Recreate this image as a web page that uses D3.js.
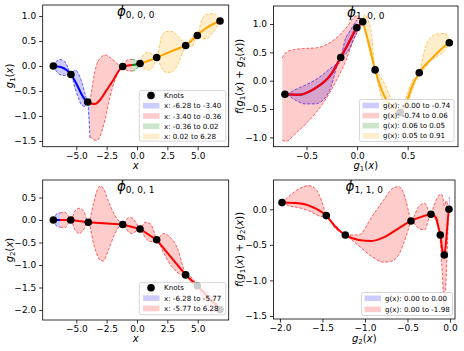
<!DOCTYPE html>
<html><head><meta charset="utf-8">
<script src="https://cdn.jsdelivr.net/npm/d3@7"></script>
<style>body{margin:0;background:#fff;} svg{display:block;} text{font-family:"DejaVu Sans",sans-serif;fill:#000;}</style>
</head><body><svg id="c" width="464" height="351"></svg>
<script>
// ---------- Panel φ0,0,0 ----------
const p1Labels = ["x: -6.28 to -3.40", "x: -3.40 to -0.36", "x: -0.36 to 0.02", "x: 0.02 to 6.28"];
const p1Knots = [[-6.89,0],[-5.44,-0.17],[-4.06,-0.72],[-1.18,-0.01],[0.25,0.05],[1.62,0.17],[4.01,0.41],[4.97,0.61],[6.84,0.90]];
const p1LineBlue = [[-6.89,0],[-6.3,-0.02],[-5.8,-0.08],[-5.44,-0.17],[-5.0,-0.35],[-4.6,-0.55],[-4.3,-0.67],[-4.06,-0.72],[-3.87,-0.75]];
const p1LineRed = [[-3.87,-0.75],[-3.46,-0.76],[-3.05,-0.68],[-2.5,-0.48],[-1.95,-0.28],[-1.54,-0.11],[-1.18,-0.01],[-0.71,0.01],[-0.4,0.02]];
const p1LineGreen = [[-0.4,0.02],[-0.1,0.03],[0.1,0.04]];
const p1LineOrange = [[0.1,0.04],[0.25,0.05],[1.0,0.11],[1.62,0.17],[2.5,0.26],[3.3,0.34],[4.01,0.41],[4.5,0.51],[4.97,0.61],[5.6,0.74],[6.2,0.83],[6.84,0.90]];
const p1BandBlue = [[-6.89,0,0],[-6.65,-0.10,0.09],[-6.35,-0.17,0.13],[-6.0,-0.19,0.10],[-5.7,-0.18,-0.02],[-5.44,-0.17,-0.17],[-5.1,-0.45,-0.08],[-4.83,-0.63,-0.15],[-4.56,-0.78,-0.31],[-4.28,-0.81,-0.55],[-4.06,-0.72,-0.72],[-3.97,-1.0,-0.73],[-3.87,-1.45,-0.74]];
const p1BandRed = [[-3.87,-1.41,-0.71],[-3.6,-1.47,-0.28],[-3.32,-1.49,0.03],[-3.05,-1.41,0.15],[-2.64,-1.08,0.22],[-2.22,-0.61,0.17],[-1.81,-0.28,0.09],[-1.46,-0.09,0.01],[-1.18,-0.01,-0.01],[-0.9,-0.08,0.10],[-0.6,-0.10,0.13],[-0.4,-0.10,0.13]];
const p1BandGreen = [[-0.4,-0.10,0.13],[-0.15,-0.08,0.12],[0.1,-0.02,0.08]];
const p1BandOrange = [[0.1,-0.02,0.08],[0.25,0.05,0.05],[0.52,-0.03,0.22],[0.93,-0.08,0.27],[1.35,0.0,0.22],[1.62,0.17,0.17],[2.03,-0.05,0.59],[2.44,-0.13,0.69],[2.86,-0.12,0.69],[3.40,0.05,0.59],[3.82,0.30,0.47],[4.01,0.41,0.41],[4.5,0.39,0.57],[4.97,0.61,0.61],[5.33,0.55,0.92],[5.74,0.55,1.03],[6.29,0.69,1.05],[6.6,0.80,0.99],[6.84,0.90,0.90]];

// ---------- Panel φ1,0,0 ----------
const p2Labels = ["g(x): -0.00 to -0.74", "g(x): -0.74 to 0.06", "g(x): 0.06 to 0.05", "g(x): 0.05 to 0.91"];
const p2Knots = [[-0.713,-0.24],[-0.162,0.41],[-0.003,0.935],[0.056,1.04],[0.178,0.19],[0.426,-0.56],[0.614,0.14],[0.911,0.67]];
const p2LineBlue = [[-0.74,-0.24],[-0.713,-0.24],[-0.58,-0.25],[-0.42,-0.14],[-0.25,0.13],[-0.162,0.41],[-0.086,0.66],[-0.003,0.935]];
const p2LineRed = [[-0.74,-0.24],[-0.713,-0.24],[-0.58,-0.25],[-0.42,-0.14],[-0.25,0.13],[-0.162,0.41],[-0.086,0.66],[-0.003,0.935],[0.056,1.04]];
const p2LineGreen = [[0.05,1.04],[0.06,1.04]];
const p2LineOrange = [[0.056,1.04],[0.112,0.68],[0.178,0.19],[0.244,-0.17],[0.31,-0.40],[0.37,-0.53],[0.426,-0.56],[0.48,-0.42],[0.541,-0.11],[0.614,0.14],[0.739,0.394],[0.838,0.57],[0.911,0.67]];
const p2BandBlue = [[-0.74,-0.26,-0.22],[-0.713,-0.24,-0.24],[-0.614,-0.34,-0.16],[-0.515,-0.41,-0.08],[-0.416,-0.41,0.01],[-0.284,-0.22,0.19],[-0.162,0.41,0.41],[-0.119,0.46,0.72],[-0.069,0.58,0.88],[-0.036,0.72,0.98],[0.0,0.84,1.07]];
const p2BandRed = [[-0.74,-1.05,0.40],[-0.70,-1.07,0.50],[-0.62,-0.95,0.55],[-0.5,-0.75,0.57],[-0.4,-0.55,0.58],[-0.3,-0.30,0.64],[-0.2,0.02,0.76],[-0.1,0.40,0.95],[-0.03,0.75,1.12],[0.0,0.85,1.15],[0.056,1.04,1.04]];
const p2BandGreen = [[0.05,1.03,1.05],[0.06,1.03,1.05]];
const p2BandOrange = [[0.056,1.04,1.04],[0.076,0.92,1.16],[0.109,0.62,1.07],[0.142,0.40,0.83],[0.178,0.19,0.19],[0.22,-0.15,0.10],[0.27,-0.45,-0.05],[0.32,-0.62,-0.25],[0.37,-0.65,-0.42],[0.426,-0.56,-0.56],[0.48,-0.48,-0.32],[0.54,-0.20,-0.02],[0.614,0.14,0.14],[0.67,0.22,0.57],[0.72,0.335,0.75],[0.785,0.42,0.82],[0.868,0.54,0.835],[0.911,0.67,0.72]];

// ---------- Panel φ0,0,1 ----------
const p3Labels = ["x: -6.28 to -5.77", "x: -5.77 to 6.28"];
const p3Knots = [[-6.89,0],[-5.46,0],[-4.01,-0.05],[-1.18,-0.10],[0.25,-0.20],[1.62,-0.44],[4.01,-1.22],[4.97,-1.46],[6.84,-1.99]];
const p3LineBlue = [[-6.89,0],[-6.34,0]];
const p3LineRed = [[-6.34,0],[-5.46,0],[-4.01,-0.05],[-1.18,-0.10],[0.25,-0.20],[1.62,-0.44],[4.01,-1.22],[4.97,-1.46],[6.84,-1.99]];
const p3BandBlue = [[-6.89,0,0],[-6.6,-0.14,0.14],[-6.34,-0.16,0.16]];
const p3BandRed = [[-6.34,-0.16,0.16],[-5.93,-0.17,0.17],[-5.6,-0.05,0.06],[-5.46,0,0],[-5.11,-0.22,0.20],[-4.75,-0.30,0.26],[-4.37,-0.20,0.185],[-4.01,-0.05,-0.05],[-3.6,-0.50,0.35],[-3.32,-0.75,0.63],[-3.05,-0.89,0.755],[-2.77,-0.91,0.70],[-2.36,-0.67,0.42],[-1.81,-0.30,0.10],[-1.4,-0.13,-0.05],[-1.18,-0.10,-0.10],[-0.71,-0.26,0.05],[-0.44,-0.30,0.05],[-0.03,-0.24,-0.08],[0.25,-0.20,-0.20],[0.66,-0.38,-0.05],[1.07,-0.48,-0.08],[1.40,-0.47,-0.25],[1.62,-0.44,-0.44],[2.17,-0.72,-0.30],[2.72,-0.98,-0.38],[3.40,-1.18,-0.68],[3.8,-1.23,-1.05],[4.01,-1.22,-1.22],[4.5,-1.40,-1.28],[4.97,-1.46,-1.46],[5.5,-1.82,-1.55],[6.2,-2.05,-1.72],[6.84,-1.99,-1.99]];

// ---------- Panel φ1,1,0 ----------
const p4Labels = ["g(x): 0.00 to 0.00", "g(x): 0.00 to -1.98"];
const p4Knots = [[-1.976,0.094],[-1.455,-0.089],[-1.231,-0.361],[-0.459,-0.164],[-0.224,-0.070],[-0.114,-0.361],[-0.067,-0.642],[-0.012,0.0]];
const p4LineBlue = [[-0.012,0],[0.0,0.0]];
const p4LineRed = [[-1.976,0.094],[-1.78,0.084],[-1.584,0.014],[-1.455,-0.089],[-1.349,-0.244],[-1.231,-0.361],[-1.075,-0.431],[-0.918,-0.445],[-0.761,-0.384],[-0.604,-0.267],[-0.459,-0.164],[-0.329,-0.103],[-0.224,-0.070],[-0.165,-0.117],[-0.133,-0.267],[-0.114,-0.361],[-0.090,-0.572],[-0.067,-0.642],[-0.043,-0.408],[-0.024,-0.127],[-0.012,0]];
const p4BandBlue = [[-0.014,-0.04,0.16],[0.0,-0.04,0.16]];
const p4BandRed = [[-1.976,0.094,0.094],[-1.898,0.05,0.178],[-1.78,0.023,0.286],[-1.663,-0.02,0.333],[-1.584,-0.07,0.29],[-1.506,-0.103,0.108],[-1.455,-0.089,-0.089],[-1.349,-0.27,-0.22],[-1.231,-0.361,-0.361],[-1.075,-0.511,-0.361],[-0.918,-0.666,-0.103],[-0.78,-0.745,0.131],[-0.682,-0.727,0.286],[-0.604,-0.64,0.319],[-0.545,-0.48,0.225],[-0.486,-0.267,-0.033],[-0.459,-0.164,-0.164],[-0.369,-0.267,0.038],[-0.298,-0.29,0.084],[-0.224,-0.07,-0.07],[-0.192,-0.10,0.038],[-0.153,-0.2,0.155],[-0.114,-0.45,0.21],[-0.09,-0.9,0.20],[-0.067,-1.37,0.05],[-0.043,-0.9,0.12],[-0.024,-0.3,0.05],[-0.012,0,0]];

// ---------- drawing ----------
const COLORS = {blue:"#0000ff", red:"#ff0000", green:"#008000", orange:"#ffa500"};
const svg = d3.select("#c");

function mathText(sel, parts, size) {
  parts.forEach(p => {
    const t = sel.append("tspan").text(p[0]);
    if (p[1] === "i") t.attr("font-style", "italic");
    if (p[1] === "sub") t.attr("font-size", size * 0.7).attr("dy", size * 0.22);
    if (p[1] === "up") t.attr("dy", -size * 0.22);
  });
}
const G1 = [["g","i"],["1","sub"],["(","up"],["x","i"],[")",""]];
const G2 = [["g","i"],["2","sub"],["(","up"],["x","i"],[")",""]];
const FG = [["f","i"],["(",""],["g","i"],["1","sub"],["(","up"],["x","i"],[") + ",""],["g","i"],["2","sub"],["(","up"],["x","i"],["))",""]];

function drawPanel(o) {
  const x = d3.scaleLinear().domain(o.xd).range([o.l, o.r]);
  const y = d3.scaleLinear().domain(o.yd).range([o.b, o.t]);
  const g = svg.append("g");
  const cid = "clip" + o.id;
  svg.append("defs").append("clipPath").attr("id", cid).append("rect")
    .attr("x", o.l).attr("y", o.t).attr("width", o.r - o.l).attr("height", o.b - o.t);
  const plot = g.append("g").attr("clip-path", `url(#${cid})`);
  const curve = o.curve || d3.curveMonotoneX;
  o.series.forEach(s => {
    const col = COLORS[s.color];
    if (s.band) {
      const area = d3.area().x(d => x(d[0])).y0(d => y(d[1])).y1(d => y(d[2])).curve(d3.curveMonotoneX);
      plot.append("path").attr("d", area(s.band)).attr("fill", col).attr("fill-opacity", 0.2);
      [1, 2].forEach(k => {
        const ln = d3.line().x(d => x(d[0])).y(d => y(d[k])).curve(d3.curveMonotoneX);
        plot.append("path").attr("d", ln(s.band)).attr("fill", "none").attr("stroke", col)
          .attr("stroke-width", 0.8).attr("stroke-dasharray", "3,1.6").attr("stroke-opacity", 0.75);
      });
    }
    const line = d3.line().x(d => x(d[0])).y(d => y(d[1])).curve(curve);
    plot.append("path").attr("d", line(s.line)).attr("fill", "none").attr("stroke", col)
      .attr("stroke-width", 2).attr("stroke-linejoin", "round");
  });
  g.append("g").selectAll("circle").data(o.knots).join("circle")
    .attr("cx", d => x(d[0])).attr("cy", d => y(d[1])).attr("r", 3.8).attr("fill", "#000");

  // title
  const tt = g.append("text").attr("x", (o.l + o.r) / 2).attr("y", o.t + 10.8).attr("text-anchor", "middle");
  tt.append("tspan").text("ϕ").attr("font-style", "italic").attr("font-size", 13.5);
  tt.append("tspan").text(o.sub).attr("font-size", 9).attr("dy", 2.6);

  // legend
  const L = o.legend;
  const lg = g.append("g");
  lg.append("rect").attr("x", L.x).attr("y", L.y).attr("width", L.w).attr("height", L.h).attr("rx", 2)
    .attr("fill", "#fff").attr("fill-opacity", 0.8).attr("stroke", "#cccccc").attr("stroke-width", 0.8);
  let rows = [];
  if (L.knots) rows.push({knot: true, label: "Knots"});
  o.labels.forEach((lab, i) => rows.push({color: o.legendColors[i], label: lab}));
  rows.forEach((r, i) => {
    const cy = L.y0 + i * L.step;
    if (r.knot) lg.append("circle").attr("cx", L.px + 8).attr("cy", cy).attr("r", 3.8).attr("fill", "#000");
    else lg.append("rect").attr("x", L.px).attr("y", cy - 2.8).attr("width", 16.5).attr("height", 5.6)
      .attr("fill", COLORS[r.color]).attr("fill-opacity", 0.2);
    lg.append("text").attr("x", L.tx).attr("y", cy + 2.5).attr("font-size", 7.1).attr("fill", "#222").text(r.label);
  });

  // axes
  const fmt = d3.format(".1f");
  const xa = g.append("g").attr("transform", `translate(0,${o.b})`)
    .call(d3.axisBottom(x).tickValues(o.xt).tickFormat(fmt).tickSize(3.5).tickPadding(2.5).tickSizeOuter(0));
  const ya = g.append("g").attr("transform", `translate(${o.l},0)`)
    .call(d3.axisLeft(y).tickValues(o.yt).tickFormat(fmt).tickSize(3.5).tickPadding(3).tickSizeOuter(0));
  [xa, ya].forEach(a => {
    a.select(".domain").remove();
    a.selectAll("text").attr("font-size", 9).attr("font-family", "DejaVu Sans").attr("fill", "#000");
    a.selectAll("line").attr("stroke", "#000").attr("stroke-width", 0.8);
  });
  g.append("rect").attr("x", o.l).attr("y", o.t).attr("width", o.r - o.l).attr("height", o.b - o.t)
    .attr("fill", "none").attr("stroke", "#000").attr("stroke-width", 0.8);

  // labels
  const xl = g.append("text").attr("x", (o.l + o.r) / 2).attr("y", o.b + o.xlY).attr("text-anchor", "middle").attr("font-size", 10);
  mathText(xl, o.xlabel, 10);
  const yl = g.append("text").attr("transform", `translate(${o.ylX},${(o.t + o.b) / 2}) rotate(-90)`)
    .attr("text-anchor", "middle").attr("font-size", 10);
  mathText(yl, o.ylabel, 10);
}

drawPanel({id: 1, l: 42.7, r: 228.7, t: 5, b: 146.7, xd: [-7.768, 7.554], yd: [-1.614, 1.22],
  xt: [-5, -2.5, 0, 2.5, 5], yt: [-1.5, -1, -0.5, 0, 0.5, 1], sub: "0, 0, 0",
  series: [{color: "blue", line: p1LineBlue, band: p1BandBlue}, {color: "red", line: p1LineRed, band: p1BandRed},
           {color: "green", line: p1LineGreen, band: p1BandGreen}, {color: "orange", line: p1LineOrange, band: p1BandOrange}],
  knots: p1Knots, labels: p1Labels, legendColors: ["blue", "red", "green", "orange"],
  legend: {x: 139.3, y: 90.7, w: 86.5, h: 50.5, knots: true, y0: 95.5, step: 10.25, px: 143, tx: 164},
  xlabel: [["x", "i"]], ylabel: G1, xlY: 22.5, ylX: 13});

drawPanel({id: 2, l: 273.5, r: 458, t: 6, b: 146.7, xd: [-0.826, 0.997], yd: [-1.165, 1.318],
  xt: [-0.5, 0, 0.5], yt: [-1, -0.5, 0, 0.5, 1], sub: "1, 0, 0",
  series: [{color: "blue", line: p2LineBlue, band: p2BandBlue}, {color: "red", line: p2LineRed, band: p2BandRed},
           {color: "green", line: p2LineGreen, band: p2BandGreen}, {color: "orange", line: p2LineOrange, band: p2BandOrange}],
  knots: p2Knots, labels: p2Labels, legendColors: ["blue", "red", "green", "orange"],
  legend: {x: 359.5, y: 99.5, w: 94.5, h: 42, knots: false, y0: 105.5, step: 10.1, px: 362.5, tx: 383},
  xlabel: G1, ylabel: FG, xlY: 22.5, ylX: 243});

drawPanel({id: 3, l: 42.7, r: 228.7, t: 180, b: 320, xd: [-7.768, 7.554], yd: [-2.222, 0.889],
  xt: [-5, -2.5, 0, 2.5, 5], yt: [-2, -1.5, -1, -0.5, 0, 0.5], sub: "0, 0, 1", curve: d3.curveLinear,
  series: [{color: "blue", line: p3LineBlue, band: p3BandBlue}, {color: "red", line: p3LineRed, band: p3BandRed}],
  knots: p3Knots, labels: p3Labels, legendColors: ["blue", "red"],
  legend: {x: 139.3, y: 282.7, w: 86.5, h: 32, knots: true, y0: 287.7, step: 10.4, px: 143, tx: 164},
  xlabel: [["x", "i"]], ylabel: G2, xlY: 22, ylX: 13});

drawPanel({id: 4, l: 273.5, r: 455, t: 180, b: 319, xd: [-2.076, 0.059], yd: [-1.543, 0.412],
  xt: [-2, -1.5, -1, -0.5, 0], yt: [-1.5, -1, -0.5, 0], sub: "1, 1, 0",
  series: [{color: "blue", line: p4LineBlue, band: p4BandBlue}, {color: "red", line: p4LineRed, band: p4BandRed}],
  knots: p4Knots, labels: p4Labels, legendColors: ["blue", "red"],
  legend: {x: 361.5, y: 292.5, w: 91, h: 23, knots: false, y0: 298.3, step: 11, px: 364.5, tx: 385},
  xlabel: G2, ylabel: FG, xlY: 23, ylX: 243});
</script></body></html>
